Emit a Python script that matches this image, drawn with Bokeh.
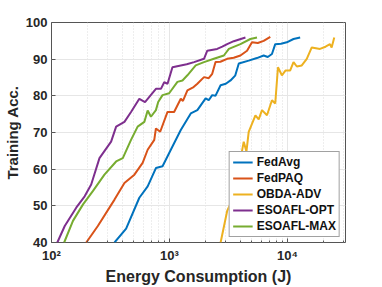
from bokeh.plotting import figure
from bokeh.models import Legend, LegendItem, FixedTicker, Range1d
from bokeh.embed import file_html
from bokeh.resources import INLINE

series_names = ["FedAvg", "FedPAQ", "OBDA-ADV", "ESOAFL-OPT", "ESOAFL-MAX"]
colors = ["#0072BD", "#D95319", "#EDB120", "#7E2F8E", "#77AC30"]

fedavg_x = [342, 429, 555, 653, 767, 873, 1026, 1246, 1514, 1722, 2023, 2150, 2301, 2450, 2710, 3000, 3290, 3600, 3865, 4690, 5500, 6280, 6800, 7380, 7870, 8800, 9860, 11240, 12800]
fedavg_y = [40, 43.8, 52.2, 55.3, 60.3, 60.8, 65.3, 70.7, 75.2, 76.1, 79.3, 78.8, 80.2, 80.0, 82.9, 83.3, 84.2, 85.5, 88.8, 89.6, 90.3, 91.0, 90.6, 91.4, 94.1, 94.2, 94.6, 95.5, 95.9]

fedpaq_x = [197, 247, 342, 415, 504, 592, 653, 743, 767, 834, 962, 1094, 1246, 1300, 1418, 1600, 1722, 1960, 2150, 2301, 2455, 2700, 3080, 3500, 3990, 4540, 5000, 5600, 6280, 7145]
fedpaq_y = [40, 44.5, 51.7, 56.2, 58.5, 61.7, 65.3, 68.0, 71.1, 70.2, 75.6, 75.6, 79.2, 78.6, 81.5, 82.4, 83.3, 85.1, 84.8, 86.0, 89.2, 89.3, 90.1, 90.4, 91.0, 92.3, 94.6, 94.4, 95.0, 96.1]

obda_x = [2710, 3080, 3505, 3990, 4255, 4485, 4690, 5345, 5700, 6080, 6700, 7380, 7870, 8300, 8960, 9600, 10520, 11240, 12000, 13210, 14560, 16050, 18850, 21000, 22900, 23650, 24900]
obda_y = [40, 48.6, 52.6, 62.6, 67.5, 64.8, 70.2, 74.7, 73.6, 76.1, 74.7, 78.8, 77.9, 87.8, 85.6, 86.9, 86.9, 89.2, 88.0, 88.3, 90.1, 93.2, 92.8, 93.4, 94.1, 93.2, 95.9]

opt_x = [112, 129.5, 162, 191, 217, 255, 320, 353, 415, 472, 555, 620, 767, 846, 902, 962, 1059, 1246, 1400, 1615, 1960, 2090, 2535, 2800, 3080, 3505, 4400]
opt_y = [40, 44.5, 49.5, 52.6, 55.8, 63.0, 67.5, 71.6, 72.9, 75.6, 79.2, 78.3, 81.9, 81.9, 83.7, 83.3, 87.8, 88.3, 88.6, 89.2, 90.1, 92.3, 92.8, 93.4, 94.1, 94.9, 95.9]

max_x = [128, 152, 185, 224, 281, 353, 402, 472, 537, 612, 653, 696, 767, 802, 873, 993, 1167, 1288, 1418, 1667, 1960, 2378, 2888, 3185, 3990, 4845, 5515]
max_y = [40, 45.9, 50.4, 54.0, 58.5, 62.1, 63.0, 68.0, 71.6, 72.9, 76.0, 74.3, 76.1, 78.3, 80.2, 80.7, 83.8, 84.2, 85.6, 88.3, 89.2, 90.1, 91.0, 92.8, 94.1, 95.5, 95.9]

x_ticks = [100, 1000, 10000]
x_tick_labels = {100: "10²", 1000: "10³", 10000: "10⁴"}
y_ticks = [40, 50, 60, 70, 80, 90, 100]

all_x = [fedavg_x, fedpaq_x, obda_x, opt_x, max_x]
all_y = [fedavg_y, fedpaq_y, obda_y, opt_y, max_y]

FONT = "Liberation Sans"
X_MAX = 31000
minor = [v * m for v in [100, 1000, 10000] for m in range(2, 10) if v * m <= X_MAX]

p = figure(width=382, height=287, x_axis_type="log", output_backend="svg",
           toolbar_location=None, x_range=Range1d(100, X_MAX), y_range=Range1d(40, 100),
           min_border_left=50, min_border_right=37, min_border_top=22, min_border_bottom=44)

renderers = []
for xs, ys, c in zip(all_x, all_y, colors):
    r = p.line(xs, ys, line_color=c, line_width=2)
    renderers.append(r)

p.outline_line_color = "#555555"
p.outline_line_width = 1

ax = p.xaxis[0]
ax.ticker = FixedTicker(ticks=x_ticks, minor_ticks=minor)
ax.major_label_overrides = x_tick_labels
ax.axis_label = "Energy Consumption (J)"
ay = p.yaxis[0]
ay.ticker = FixedTicker(ticks=y_ticks)
ay.axis_label = "Training Acc."

for a in [ax, ay]:
    a.axis_label_text_font = FONT
    a.axis_label_text_font_style = "bold"
    a.axis_label_text_color = "#262626"
    a.major_label_text_font = FONT
    a.major_label_text_font_style = "bold"
    a.major_label_text_font_size = "13px"
    a.major_label_text_color = "#262626"
    a.axis_line_color = None
    a.major_tick_in = 4
    a.major_tick_out = 0
    a.minor_tick_in = 2
    a.minor_tick_out = 0
    a.major_tick_line_color = "#555555"
    a.minor_tick_line_color = "#555555"
    a.major_label_standoff = 4
ax.major_label_standoff = 5
ax.axis_label_text_font_size = "16px"
ay.axis_label_text_font_size = "15px"
ax.axis_label_standoff = 2
ay.axis_label_standoff = 2
ay.minor_tick_line_color = None

p.xgrid.grid_line_color = "#e6e6e6"
p.xgrid.minor_grid_line_color = "#dcdcdc"
p.xgrid.minor_grid_line_dash = "1 2"
p.ygrid.grid_line_color = "#e6e6e6"

items = [LegendItem(label=n, renderers=[r]) for n, r in zip(series_names, renderers)]
leg = Legend(items=items, location="bottom_right")
leg.label_text_font = FONT
leg.label_text_font_style = "bold"
leg.label_text_font_size = "12px"
leg.label_text_color = "#111111"
leg.glyph_width = 20
leg.glyph_height = 12
leg.label_height = 13
leg.spacing = 2
leg.padding = 3
leg.margin = 5
leg.label_standoff = 4
leg.border_line_color = "#444444"
leg.border_line_width = 1
leg.background_fill_alpha = 1
p.add_layout(leg)

open("out.html", "w").write(file_html(p, INLINE))
